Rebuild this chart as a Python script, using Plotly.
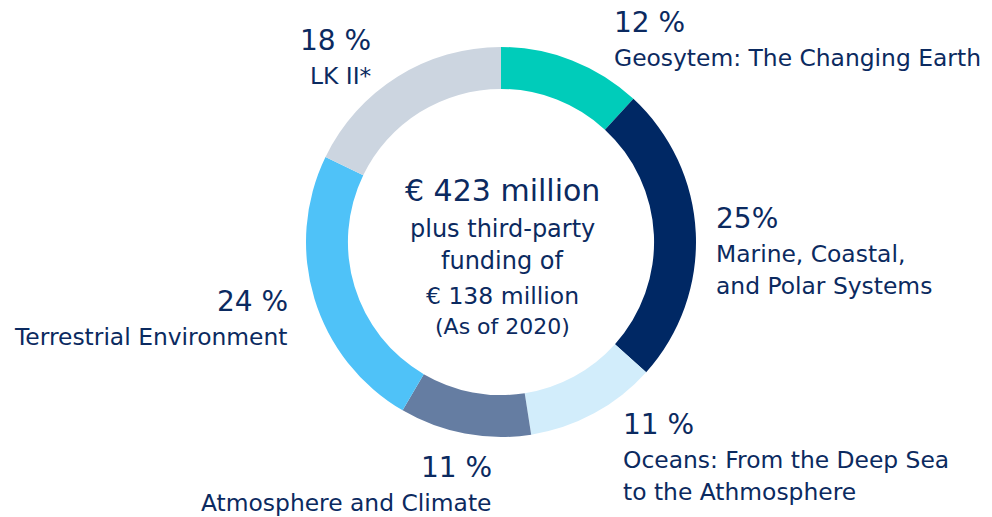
import plotly.graph_objects as go

# Research fields, clockwise from 12 o'clock
fields = [
    "Geosytem: The Changing Earth",
    "Marine, Coastal,\nand Polar Systems",
    "Oceans: From the Deep Sea\nto the Athmosphere",
    "Atmosphere and Climate",
    "Terrestrial Environment",
    "LK II*",
]
shares = [12, 25, 11, 11, 24, 18]
share_text = ["12 %", "25%", "11 %", "11 %", "24 %", "18 %"]
colors = ["#00CCBA", "#002864", "#D2EDFB", "#657DA2", "#4FC2F8", "#CCD5E0"]

center_lines = ["€ 423 million", "plus third-party", "funding of", "€ 138 million", "(As of 2020)"]

# page body adds an 8px offset, so the figure is drawn 8px smaller
OFF = 8
W, H = 992 - OFF, 517 - OFF
TXT = "#0B2A60"
FONT = "DejaVu Sans"


def fx(px):
    return (px - OFF) / W


def fy(py):
    return 1 - (py - OFF) / H


fig = go.Figure(go.Pie(
    labels=[f.replace("\n", " ") for f in fields],
    values=shares,
    marker=dict(colors=colors, line=dict(width=0)),
    hole=0.785,
    sort=False,
    direction="clockwise",
    rotation=0,
    textinfo="none",
    hoverinfo="label+percent",
    domain=dict(x=[fx(501 - 195), fx(501 + 195)], y=[fy(437), fy(47)]),
))

# label placement in pixels: (x, y of percent, anchor)
label_pos = [
    (612, 22, "left"),
    (714, 218, "left"),
    (621, 424, "left"),
    (494, 467, "right"),
    (290, 301, "right"),
    (373, 40, "right"),
]

ann = []
for name, pct, (px, py, anc) in zip(fields, share_text, label_pos):
    ann.append(dict(x=fx(px), y=fy(py), text=pct, xanchor=anc, yanchor="middle",
                    height=28, font=dict(size=28, color=TXT, family=FONT)))
    for i, line in enumerate(name.split("\n")):
        ann.append(dict(x=fx(px), y=fy(py + 36 + i * 32), text=line, xanchor=anc,
                        yanchor="middle", font=dict(size=23.4, color=TXT, family=FONT)))

center_y = [190, 229, 261, 296, 326]
center_size = [30, 24, 24, 23.5, 22]
for line, cy, sz in zip(center_lines, center_y, center_size):
    ann.append(dict(x=fx(502), y=fy(cy), text=line, xanchor="center", yanchor="middle",
                    font=dict(size=sz, color=TXT, family=FONT)))

for a in ann:
    a.update(xref="paper", yref="paper", showarrow=False)

fig.update_layout(
    width=W, height=H,
    margin=dict(l=0, r=0, t=0, b=0),
    paper_bgcolor="white",
    plot_bgcolor="white",
    showlegend=False,
    annotations=ann,
)

fig.write_html("out.html")
